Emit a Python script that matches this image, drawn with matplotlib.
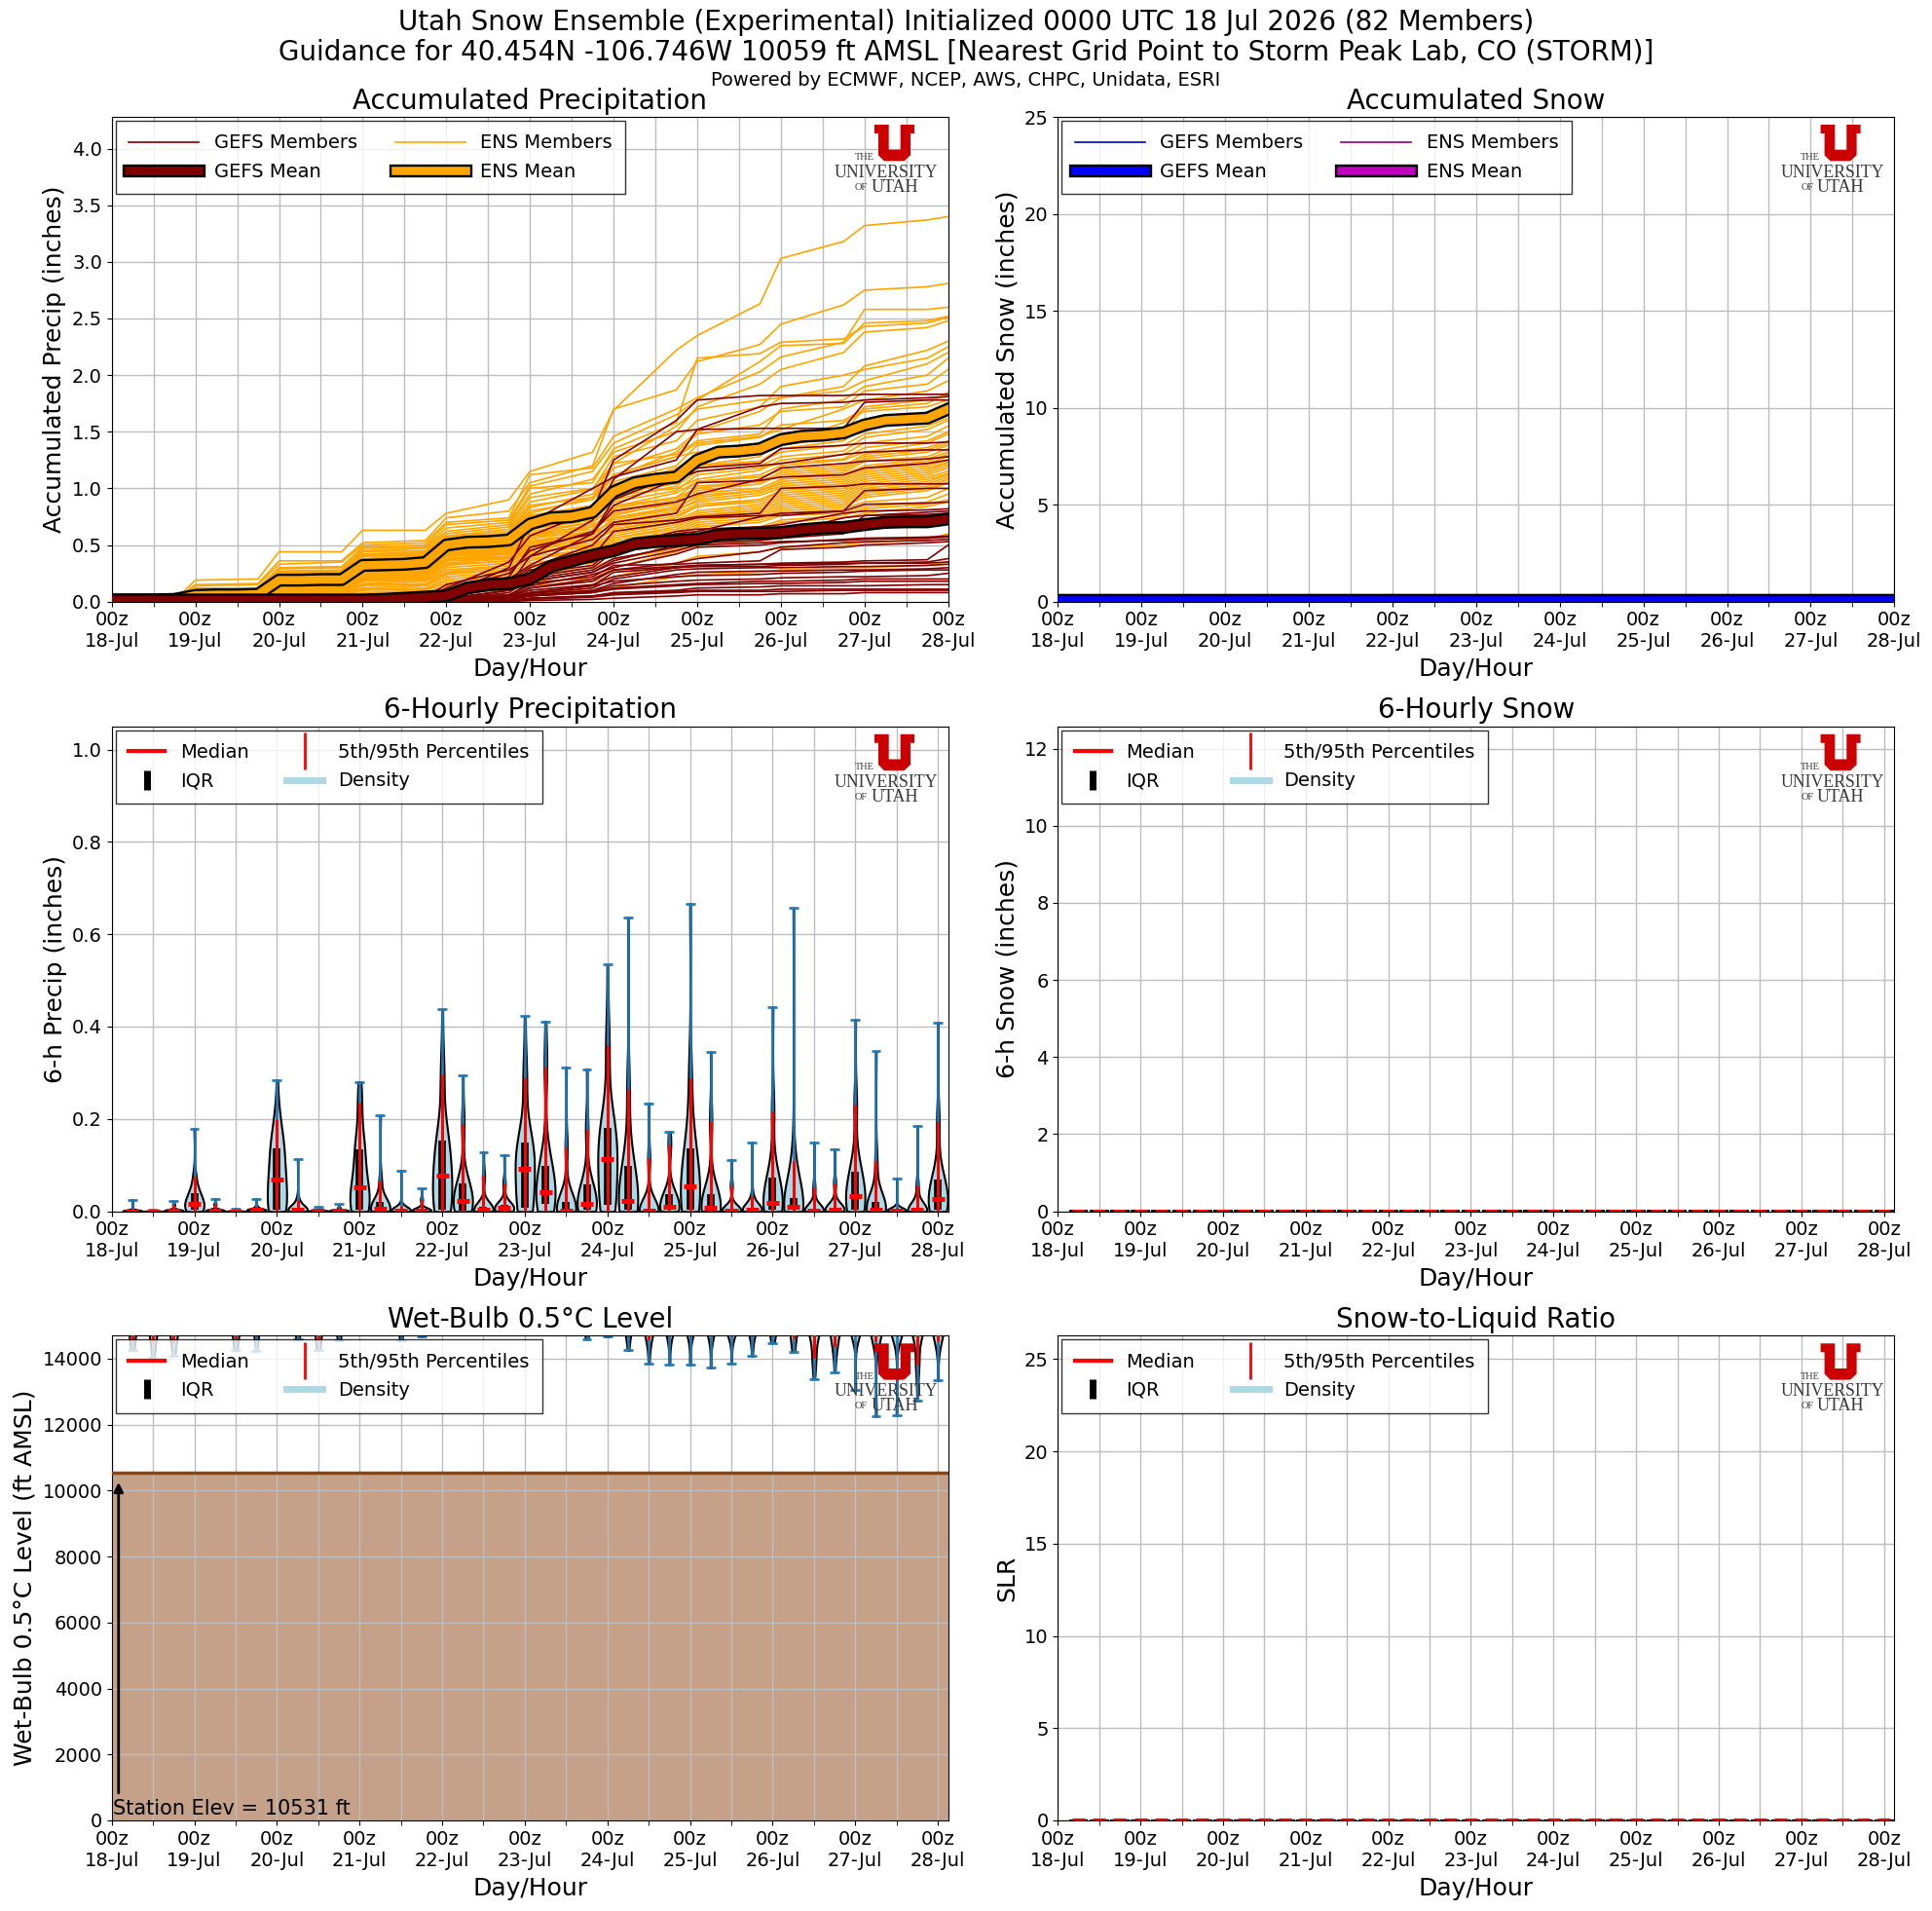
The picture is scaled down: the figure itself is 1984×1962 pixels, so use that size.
import numpy as np
import matplotlib
matplotlib.use('Agg')
import matplotlib.pyplot as plt
import matplotlib.patheffects as pe
from matplotlib.lines import Line2D
from matplotlib.patches import Polygon

# forecast hours
step_hours = list(range(6, 241, 6))
mean_hours = list(range(0, 241, 6))
member_hours = [0, 18, 24, 42, 48, 66, 72, 90, 96, 114, 120, 138, 144, 162, 168, 186, 192, 210, 216, 234, 240]
tick_days = ['18-Jul', '19-Jul', '20-Jul', '21-Jul', '22-Jul', '23-Jul', '24-Jul', '25-Jul', '26-Jul', '27-Jul', '28-Jul']

# ensemble mean accumulated precip (inches)
ens_mean = [0.015, 0.015, 0.015, 0.02, 0.055, 0.06, 0.06, 0.065, 0.19, 0.19, 0.195, 0.195, 0.32, 0.325, 0.33, 0.345,
            0.50, 0.525, 0.53, 0.545, 0.685, 0.74, 0.75, 0.79, 0.97, 1.05, 1.08, 1.10, 1.25, 1.32, 1.33, 1.35,
            1.43, 1.46, 1.47, 1.49, 1.56, 1.60, 1.61, 1.62, 1.70]
gefs_mean = [0.015, 0.015, 0.015, 0.015, 0.015, 0.015, 0.015, 0.015, 0.015, 0.015, 0.015, 0.015, 0.015, 0.02, 0.03, 0.04,
             0.05, 0.12, 0.15, 0.16, 0.20, 0.31, 0.36, 0.41, 0.45, 0.51, 0.53, 0.54, 0.55, 0.59, 0.60, 0.605,
             0.61, 0.635, 0.65, 0.655, 0.68, 0.70, 0.705, 0.705, 0.73]

# member accumulated precip, hundredths of an inch at member_hours
ens_members = [
    [0, 1, 19, 20, 44, 44, 63, 63, 78, 90, 115, 132, 169, 222, 235, 263, 303, 318, 332, 337, 340],
    [0, 1, 15, 16, 36, 36, 52, 54, 74, 80, 105, 120, 170, 187, 212, 227, 245, 262, 275, 278, 281],
    [0, 2, 14, 15, 33, 35, 50, 52, 70, 74, 112, 118, 146, 170, 180, 203, 216, 229, 258, 258, 260],
    [0, 1, 12, 12, 30, 31, 48, 50, 68, 72, 102, 115, 140, 165, 178, 212, 226, 228, 246, 248, 252],
    [0, 1, 11, 12, 29, 30, 47, 48, 65, 70, 100, 105, 135, 158, 215, 219, 229, 232, 243, 246, 251],
    [0, 1, 10, 11, 27, 28, 45, 47, 62, 68, 95, 108, 132, 150, 172, 192, 205, 220, 238, 242, 248],
    [0, 1, 10, 10, 26, 27, 44, 45, 60, 66, 92, 100, 122, 155, 170, 178, 180, 190, 208, 222, 230],
    [0, 0, 9, 9, 25, 26, 42, 44, 58, 64, 88, 99, 128, 142, 160, 172, 190, 200, 205, 215, 225],
    [0, 1, 8, 9, 24, 25, 41, 43, 57, 62, 85, 92, 118, 135, 150, 168, 180, 186, 195, 210, 220],
    [0, 0, 8, 8, 23, 24, 40, 42, 56, 60, 83, 95, 122, 130, 142, 148, 170, 178, 190, 200, 215],
    [0, 0, 8, 8, 22, 23, 40, 41, 55, 60, 80, 90, 110, 132, 148, 156, 168, 172, 186, 192, 205],
    [0, 0, 7, 8, 22, 22, 38, 40, 53, 58, 78, 92, 112, 128, 140, 146, 152, 170, 178, 186, 195],
    [0, 0, 7, 7, 21, 22, 37, 38, 52, 57, 76, 85, 106, 120, 138, 145, 156, 160, 170, 175, 185],
    [0, 1, 7, 7, 20, 21, 36, 38, 50, 56, 76, 84, 112, 128, 132, 138, 140, 148, 172, 178, 182],
    [0, 0, 6, 7, 20, 21, 35, 37, 50, 55, 74, 82, 100, 118, 126, 132, 140, 158, 168, 172, 178],
    [0, 0, 6, 6, 19, 20, 34, 36, 48, 54, 72, 84, 104, 113, 120, 128, 148, 150, 160, 165, 172],
    [0, 0, 6, 6, 19, 20, 34, 35, 48, 52, 72, 80, 98, 116, 130, 134, 138, 146, 158, 164, 170],
    [0, 0, 6, 6, 18, 19, 33, 35, 47, 52, 70, 78, 96, 104, 118, 124, 135, 142, 155, 160, 168],
    [0, 0, 5, 6, 18, 19, 32, 34, 47, 50, 68, 76, 92, 108, 120, 124, 132, 138, 148, 155, 162],
    [0, 0, 5, 5, 18, 18, 32, 33, 46, 50, 66, 72, 90, 102, 115, 120, 128, 133, 145, 152, 160],
    [0, 0, 5, 5, 17, 18, 31, 33, 46, 49, 66, 74, 94, 100, 108, 116, 125, 130, 140, 146, 155],
    [0, 0, 5, 5, 17, 17, 30, 32, 45, 48, 64, 72, 88, 98, 112, 118, 122, 126, 136, 142, 150],
    [0, 0, 4, 5, 16, 17, 30, 31, 44, 48, 62, 70, 84, 96, 106, 112, 120, 125, 132, 140, 148],
    [0, 0, 4, 4, 16, 16, 29, 30, 44, 47, 60, 66, 82, 92, 106, 110, 116, 120, 130, 136, 142],
    [0, 0, 4, 4, 15, 16, 28, 30, 43, 46, 60, 70, 84, 92, 100, 106, 114, 118, 128, 134, 140],
    [0, 0, 4, 4, 15, 15, 28, 29, 42, 46, 58, 64, 80, 90, 98, 104, 112, 116, 126, 132, 138],
    [0, 0, 3, 4, 14, 15, 27, 28, 42, 45, 58, 68, 76, 88, 102, 106, 110, 114, 124, 128, 135],
    [0, 0, 3, 3, 14, 14, 26, 28, 41, 44, 56, 62, 78, 86, 96, 100, 108, 112, 120, 126, 132],
    [0, 0, 3, 3, 13, 14, 26, 27, 40, 43, 56, 66, 74, 84, 92, 98, 106, 110, 118, 124, 130],
    [0, 0, 3, 3, 13, 13, 25, 26, 40, 42, 54, 60, 72, 82, 94, 98, 104, 108, 116, 122, 128],
    [0, 0, 3, 3, 12, 13, 24, 26, 38, 42, 52, 62, 70, 80, 90, 96, 102, 106, 114, 120, 125],
    [0, 0, 2, 3, 12, 12, 24, 25, 38, 40, 52, 58, 74, 82, 88, 94, 100, 104, 112, 118, 123],
    [0, 0, 2, 2, 11, 12, 23, 24, 37, 40, 50, 56, 68, 78, 86, 90, 98, 102, 110, 116, 122],
    [0, 0, 2, 2, 11, 11, 22, 24, 36, 39, 50, 60, 66, 76, 84, 90, 96, 100, 108, 114, 120],
    [0, 0, 2, 2, 10, 11, 22, 23, 36, 38, 48, 54, 64, 74, 84, 88, 94, 98, 106, 112, 118],
    [0, 0, 2, 2, 10, 10, 21, 22, 34, 38, 46, 52, 64, 72, 80, 86, 92, 96, 104, 110, 115],
    [0, 0, 1, 2, 9, 10, 20, 22, 33, 36, 46, 56, 62, 70, 78, 84, 90, 94, 102, 108, 113],
    [0, 0, 1, 1, 9, 9, 20, 21, 32, 36, 44, 50, 60, 70, 76, 82, 88, 92, 100, 106, 112],
    [0, 0, 1, 1, 8, 9, 19, 20, 30, 34, 44, 48, 58, 68, 76, 80, 86, 90, 98, 104, 110],
    [0, 0, 1, 1, 8, 8, 18, 19, 28, 32, 42, 50, 56, 66, 74, 78, 84, 88, 96, 102, 108],
    [0, 0, 1, 1, 7, 8, 16, 18, 26, 32, 40, 46, 56, 64, 72, 76, 82, 86, 94, 100, 106],
    [0, 0, 1, 1, 7, 7, 15, 16, 25, 30, 38, 44, 54, 62, 70, 74, 80, 84, 92, 98, 105],
    [0, 0, 0, 1, 6, 6, 14, 15, 24, 28, 36, 48, 52, 60, 68, 72, 78, 82, 88, 92, 100],
    [0, 0, 0, 1, 5, 6, 12, 14, 22, 26, 34, 40, 50, 58, 66, 70, 76, 78, 84, 88, 95],
    [0, 0, 0, 0, 5, 5, 11, 12, 20, 24, 32, 38, 48, 56, 62, 66, 72, 76, 82, 86, 90],
    [0, 0, 0, 0, 4, 5, 10, 11, 18, 22, 30, 42, 46, 54, 60, 64, 70, 74, 78, 84, 88],
    [0, 0, 0, 0, 4, 4, 8, 10, 16, 20, 28, 34, 44, 50, 56, 60, 66, 68, 72, 76, 78],
    [0, 0, 0, 0, 3, 3, 7, 8, 14, 18, 24, 30, 38, 46, 52, 58, 62, 66, 70, 73, 75],
    [0, 0, 0, 0, 2, 2, 6, 6, 12, 14, 18, 20, 30, 44, 50, 54, 58, 62, 64, 68, 70],
    [0, 0, 0, 0, 1, 2, 4, 5, 8, 10, 14, 18, 22, 34, 40, 44, 48, 50, 52, 55, 60],
    [0, 0, 0, 0, 0, 1, 2, 2, 4, 5, 8, 10, 12, 22, 24, 26, 28, 30, 30, 32, 35],
]
gefs_members = [
    [0, 0, 0, 0, 0, 0, 0, 3, 12, 35, 58, 80, 125, 160, 178, 182, 182, 182, 183, 183, 183],
    [0, 0, 0, 0, 0, 0, 0, 1, 6, 30, 70, 100, 110, 125, 152, 172, 175, 176, 178, 180, 181],
    [0, 0, 0, 0, 0, 0, 2, 4, 15, 28, 40, 72, 108, 150, 152, 153, 153, 153, 176, 178, 178],
    [0, 0, 0, 0, 0, 0, 0, 1, 5, 22, 48, 60, 90, 112, 118, 122, 135, 138, 140, 140, 141],
    [0, 0, 0, 0, 0, 0, 1, 3, 8, 20, 32, 60, 85, 108, 115, 120, 122, 130, 132, 134, 134],
    [0, 0, 0, 0, 0, 0, 1, 2, 10, 25, 45, 62, 80, 88, 95, 108, 118, 122, 124, 126, 128],
    [0, 0, 0, 0, 0, 0, 0, 0, 4, 14, 40, 55, 70, 78, 105, 107, 110, 112, 118, 122, 125],
    [0, 0, 0, 0, 0, 0, 0, 0, 3, 18, 30, 50, 68, 72, 75, 78, 100, 102, 104, 104, 104],
    [0, 0, 0, 0, 0, 0, 0, 1, 5, 12, 25, 40, 62, 70, 74, 76, 76, 80, 98, 100, 100],
    [0, 0, 0, 0, 0, 0, 0, 1, 4, 15, 28, 35, 50, 60, 62, 75, 78, 80, 86, 87, 88],
    [0, 0, 0, 0, 0, 0, 0, 2, 6, 14, 25, 32, 48, 62, 64, 66, 68, 78, 80, 81, 82],
    [0, 0, 0, 0, 0, 0, 0, 0, 3, 10, 22, 30, 44, 58, 60, 62, 62, 62, 76, 79, 80],
    [0, 0, 0, 0, 0, 0, 1, 2, 8, 12, 18, 26, 36, 50, 56, 58, 60, 74, 76, 77, 78],
    [0, 0, 0, 0, 0, 0, 0, 0, 2, 8, 20, 28, 38, 48, 52, 54, 56, 60, 70, 74, 77],
    [0, 0, 0, 0, 0, 0, 0, 1, 3, 6, 14, 24, 30, 42, 48, 50, 52, 55, 56, 57, 58],
    [0, 0, 0, 0, 0, 0, 0, 0, 2, 10, 18, 26, 34, 45, 50, 52, 53, 54, 55, 56, 57],
    [0, 0, 0, 0, 0, 0, 0, 0, 2, 5, 12, 20, 28, 34, 38, 44, 48, 52, 53, 54, 55],
    [0, 0, 0, 0, 0, 0, 0, 1, 3, 6, 16, 22, 32, 33, 34, 36, 46, 48, 50, 52, 53],
    [0, 0, 0, 0, 0, 0, 0, 0, 1, 4, 10, 15, 22, 30, 32, 33, 34, 35, 36, 37, 50],
    [0, 0, 0, 0, 0, 0, 0, 0, 1, 4, 12, 18, 28, 31, 32, 33, 33, 34, 34, 35, 38],
    [0, 0, 0, 0, 0, 0, 0, 0, 2, 3, 8, 14, 26, 30, 31, 31, 32, 33, 34, 34, 35],
    [0, 0, 0, 0, 0, 0, 0, 0, 1, 3, 7, 12, 20, 28, 29, 30, 30, 31, 31, 32, 33],
    [0, 0, 0, 0, 0, 0, 0, 0, 1, 2, 6, 10, 16, 24, 26, 27, 27, 28, 28, 29, 30],
    [0, 0, 0, 0, 0, 0, 0, 0, 1, 3, 8, 14, 18, 22, 23, 24, 25, 26, 27, 28, 28],
    [0, 0, 0, 0, 0, 0, 0, 0, 0, 2, 5, 9, 14, 18, 19, 20, 21, 22, 22, 23, 25],
    [0, 0, 0, 0, 0, 0, 0, 0, 0, 2, 5, 8, 12, 15, 16, 18, 18, 19, 20, 20, 20],
    [0, 0, 0, 0, 0, 0, 0, 0, 1, 3, 5, 8, 11, 14, 15, 16, 16, 17, 18, 18, 18],
    [0, 0, 0, 0, 0, 0, 0, 0, 0, 1, 3, 5, 8, 10, 12, 13, 14, 14, 14, 15, 15],
    [0, 0, 0, 0, 0, 0, 0, 0, 0, 1, 3, 5, 7, 9, 10, 10, 11, 11, 11, 11, 11],
    [0, 0, 0, 0, 0, 0, 0, 0, 0, 1, 2, 4, 6, 8, 9, 9, 9, 10, 10, 10, 10],
    [0, 0, 0, 0, 0, 0, 0, 0, 0, 0, 1, 2, 3, 5, 6, 6, 7, 7, 8, 8, 8],
]

# 6-h precip percentiles per step, p5 is zero everywhere
precip_max = [.025, .003, .022, .179, .027, .006, .027, .284, .113, .009, .015, .28, .208, .088, .049, .437, .294, .128, .122, .422,
              .411, .312, .308, .534, .636, .234, .172, .666, .345, .111, .149, .442, .657, .149, .134, .415, .346, .071, .185, .409]
precip_p95 = [.003, .001, .014, .074, .015, .002, .01, .2, .025, .003, .008, .236, .067, .011, .025, .296, .189, .076, .06, .291,
              .312, .139, .177, .359, .264, .114, .144, .289, .196, .056, .032, .217, .109, .051, .061, .23, .108, .007, .055, .192]
precip_p75 = [.001, 0, .001, .039, .002, 0, .003, .137, .007, .001, .002, .134, .021, .003, .003, .153, .06, .01, .014, .148,
              .098, .02, .058, .18, .098, .003, .037, .136, .037, .003, .008, .072, .028, .003, .008, .086, .021, .002, .003, .068]
precip_med = [0, 0, .002, .016, .001, 0, .004, .068, .003, .001, .002, .051, .005, .002, .002, .077, .023, .003, .008, .092,
              .041, .002, .016, .113, .023, .001, .009, .054, .007, .001, .004, .018, .009, .001, .003, .033, .004, .001, .003, .027]
precip_p25 = [0, 0, 0, .003, 0, 0, 0, .003, 0, 0, 0, .003, 0, 0, 0, .004, .002, 0, 0, .007,
              .015, 0, .003, .014, .003, 0, .003, .003, 0, 0, 0, .003, .003, 0, 0, .003, 0, 0, 0, .003]

# wet-bulb 0.5C level per step (ft AMSL)
wb_min = [14270, 14030, 14080, 14800, 14850, 14250, 14240, 14900, 14585, 14270, 14546, 14900, 15000, 14546, 14660, 15000, 15000, 15000, 15000, 15000,
          15000, 15000, 14595, 14660, 14245, 13850, 13820, 13805, 13715, 13850, 14070, 14480, 14205, 13385, 13590, 13050, 12250, 12280, 12720, 13330]
wb_p5 = [14560, 14500, 14500, 15000, 15100, 14600, 14800, 15200, 14900, 14550, 14900, 15300, 15400, 15000, 15100, 15400, 15400, 15300, 15300, 15400,
         15300, 15300, 15000, 15000, 14800, 14590, 14750, 14800, 14750, 14800, 14800, 14800, 14600, 14030, 14370, 14750, 14510, 14750, 13830, 14510]
wb_p25 = [15200, 15100, 15100, 15500, 15600, 15200, 15400, 15800, 15500, 15200, 15500, 15800, 15900, 15600, 15700, 15900, 15900, 15800, 15800, 15900,
          15800, 15800, 15600, 15500, 15300, 15100, 15200, 15200, 15200, 15100, 15200, 15300, 15200, 14900, 15000, 15100, 15000, 15000, 14900, 15000]
wb_med = [15600, 15500, 15500, 15900, 16000, 15600, 15800, 16200, 15900, 15600, 15900, 16200, 16300, 16000, 16100, 16300, 16300, 16200, 16200, 16300,
          16200, 16200, 16000, 15900, 15700, 15500, 15600, 15600, 15600, 15500, 15600, 15700, 15600, 15400, 15500, 15600, 15500, 15500, 15400, 15500]
wb_p75 = [16000, 15900, 15900, 16300, 16400, 16000, 16200, 16600, 16300, 16000, 16300, 16600, 16700, 16400, 16500, 16700, 16700, 16600, 16600, 16700,
          16600, 16600, 16400, 16300, 16100, 15900, 16000, 16000, 16000, 15900, 16000, 16100, 16000, 15800, 15900, 16000, 15900, 15900, 15800, 15900]
wb_p95 = [16500, 16400, 16400, 16800, 16900, 16500, 16700, 17100, 16800, 16500, 16800, 17100, 17200, 16900, 17000, 17200, 17200, 17100, 17100, 17200,
          17100, 17100, 16900, 16800, 16600, 16400, 16500, 16500, 16500, 16400, 16500, 16600, 16500, 16300, 16400, 16500, 16400, 16400, 16300, 16400]
wb_max = [16900, 16900, 16800, 17200, 17300, 16900, 17100, 17500, 17200, 16900, 17200, 17500, 17600, 17300, 17400, 17600, 17600, 17500, 17500, 17600,
          17500, 17500, 17300, 17200, 17000, 16800, 16900, 16900, 16900, 16800, 16900, 17000, 16900, 16700, 16800, 16900, 16800, 16800, 16700, 16800]

snow_mean = [0.08] * 41
no_precip = [0.0] * 40
station_elev = 10531

# how many members each percentile value stands for when building a violin body
slot_counts = [2, 8, 18, 24, 20, 8, 2]

W, H = 1984.0, 1962.0
ax_w, ax_h = 859.0, 497.7
col_left = [114.7, 1086.3]
row_bottom = [617.7, 1243.5, 1869.0]

plt.rcParams['font.size'] = 14

fig = plt.figure(figsize=(19.84, 19.62), dpi=100)


def make_axes(col, row):
    return fig.add_axes([col_left[col] / W, 1 - row_bottom[row] / H, ax_w / W, ax_h / H])


def format_axes(ax, title, ylabel, xmax):
    ax.set_xlim(0, xmax)
    ax.set_xticks(range(0, 241, 24))
    ax.set_xticks(range(12, 241, 24), minor=True)
    ax.set_xticklabels(['00z\n' + d for d in tick_days])
    ax.tick_params(axis='both', which='major', labelsize=14)
    ax.tick_params(axis='x', which='minor', length=3.5)
    ax.grid(True, which='both', color='#bdbdbd', linewidth=1.0)
    ax.set_axisbelow(True)
    ax.set_title(title, fontsize=20)
    ax.set_ylabel(ylabel, fontsize=18)
    ax.set_xlabel('Day/Hour', fontsize=18, labelpad=5)


def draw_logo(ax):
    # block U and wordmark, sized in pixels from the top right corner of the axes
    box_w, box_h = 112.0, 80.0
    logo = ax.inset_axes([1 - (box_w + 3.2) / ax_w, 1 - (box_h + 4) / ax_h, box_w / ax_w, box_h / ax_h])
    logo.set_xlim(0, box_w)
    logo.set_ylim(box_h, 0)
    logo.axis('off')
    logo.set_zorder(6)
    block_u = [(39.5, 4), (54.2, 4), (54.2, 29.7), (66.2, 29.7), (66.2, 4), (80.5, 4), (80.5, 13), (76.5, 13),
               (76.5, 35.3), (70, 41.3), (49.5, 41.3), (43.5, 35.3), (43.5, 13), (39.5, 13)]
    logo.add_patch(Polygon(block_u, closed=True, facecolor='#cc0000', edgecolor='none'))
    serif = dict(family='Liberation Serif', color='#3a3a3a', va='center', ha='center')
    logo.text(29, 38, 'THE', fontsize=7.5, **serif)
    logo.text(51.5, 53.5, 'UNIVERSITY', fontsize=12.8, **serif)
    logo.text(26, 68.5, 'OF', fontsize=7.5, **serif)
    logo.text(60, 68.5, 'UTAH', fontsize=13, **serif)


def member_panel(ax, members_a, members_b, mean_a, mean_b, color_a, color_b, member_color_a, member_color_b):
    # ENS members sit under GEFS members, means on top
    for m in members_b:
        ax.plot(member_hours, np.array(m) / 100.0, color=member_color_b, lw=1.2, zorder=2)
    for m in members_a:
        ax.plot(member_hours, np.array(m) / 100.0, color=member_color_a, lw=1.2, zorder=2.1)
    stroke = [pe.withStroke(linewidth=9.6, foreground='k')]
    ax.plot(mean_hours, mean_b, color=color_b, lw=6.2, path_effects=stroke, zorder=3)
    ax.plot(mean_hours, mean_a, color=color_a, lw=6.2, path_effects=stroke, zorder=3.1)
    handles = [Line2D([], [], color=member_color_a, lw=1.2),
               Line2D([], [], color=color_a, lw=6.2, path_effects=stroke),
               Line2D([], [], color=member_color_b, lw=1.2),
               Line2D([], [], color=color_b, lw=6.2, path_effects=stroke)]
    ax.legend(handles, ['GEFS Members', 'GEFS Mean', 'ENS Members', 'ENS Mean'], ncol=2, loc='upper left',
              fontsize=14, handlelength=3.7, columnspacing=2.0, labelspacing=0.52, borderpad=0.7, borderaxespad=0.2,
              fancybox=False, edgecolor='k').set_zorder(5)


def violin_panel(ax, stats):
    # stats are min, p5, p25, median, p75, p95, max per forecast step
    samples = [np.repeat(row, slot_counts) for row in zip(*stats)]
    parts = ax.violinplot(samples, positions=step_hours, widths=5.6, bw_method=0.55)
    for body in parts['bodies']:
        body.set_facecolor('lightblue')
        body.set_edgecolor('k')
        body.set_linewidth(1.5)
        body.set_alpha(1.0)
    for key in ['cbars', 'cmins', 'cmaxes']:
        parts[key].set_linewidth(1.9)
    ax.vlines(step_hours, stats[2], stats[4], color='k', lw=5.5, zorder=3)
    ax.vlines(step_hours, stats[1], stats[5], color='r', lw=2.2, zorder=3.1)
    hw = 1.85
    ax.hlines(stats[3], np.array(step_hours) - hw, np.array(step_hours) + hw, color='r', lw=3.6, zorder=3.2)
    handles = [Line2D([], [], color='r', lw=3),
               Line2D([], [], color='k', marker='|', ms=14, mew=5, ls='none'),
               Line2D([], [], color='r', marker='|', ms=28, mew=2, ls='none'),
               Line2D([], [], color='lightblue', lw=5)]
    ax.legend(handles, ['Median', 'IQR', '5th/95th Percentiles', 'Density'], ncol=2, loc='upper left',
              fontsize=14, handlelength=1.9, columnspacing=2.0, labelspacing=0.52, borderpad=0.7, borderaxespad=0.2,
              fancybox=False, edgecolor='k').set_zorder(5)


# accumulated precip
ax = make_axes(0, 0)
member_panel(ax, gefs_members, ens_members, gefs_mean, ens_mean, 'maroon', 'orange', 'maroon', 'orange')
format_axes(ax, 'Accumulated Precipitation', 'Accumulated Precip (inches)', 240)
ax.set_ylim(0, 4.28)
ax.set_yticks(np.arange(0, 4.1, 0.5))
draw_logo(ax)

# accumulated snow
ax = make_axes(1, 0)
zero_members = [[0] * 21]
member_panel(ax, zero_members, zero_members, snow_mean, snow_mean, 'blue', '#bf00bf', 'mediumblue', 'darkmagenta')
format_axes(ax, 'Accumulated Snow', 'Accumulated Snow (inches)', 240)
ax.set_ylim(0, 25)
ax.set_yticks(range(0, 26, 5))
draw_logo(ax)

# 6-hourly precip
ax = make_axes(0, 1)
zeros = no_precip
violin_panel(ax, [zeros, zeros, precip_p25, precip_med, precip_p75, precip_p95, precip_max])
format_axes(ax, '6-Hourly Precipitation', '6-h Precip (inches)', 243)
ax.set_ylim(0, 1.05)
ax.set_yticks(np.arange(0, 1.01, 0.2))
draw_logo(ax)

# 6-hourly snow
ax = make_axes(1, 1)
violin_panel(ax, [zeros] * 7)
format_axes(ax, '6-Hourly Snow', '6-h Snow (inches)', 243)
ax.set_ylim(0, 12.58)
ax.set_yticks(range(0, 13, 2))
draw_logo(ax)

# wet-bulb level with the terrain below the station
ax = make_axes(0, 2)
violin_panel(ax, [wb_min, wb_p5, wb_p25, wb_med, wb_p75, wb_p95, wb_max])
format_axes(ax, 'Wet-Bulb 0.5°C Level', 'Wet-Bulb 0.5°C Level (ft AMSL)', 243)
ax.set_ylim(0, 14693)
ax.set_yticks(range(0, 14001, 2000))
ax.axhspan(0, station_elev, facecolor='saddlebrown', alpha=0.5, zorder=0.4)
ax.axhline(station_elev, color='saddlebrown', lw=2.5, zorder=2.6)
ax.annotate('', xy=(2, 10330), xytext=(2, 750), arrowprops=dict(arrowstyle='-|>', color='k', lw=2), zorder=4)
ax.text(0.3, 180, 'Station Elev = %d ft' % station_elev, fontsize=15, zorder=4)
draw_logo(ax)

# snow-to-liquid ratio
ax = make_axes(1, 2)
violin_panel(ax, [zeros] * 7)
format_axes(ax, 'Snow-to-Liquid Ratio', 'SLR', 243)
ax.set_ylim(0, 26.27)
ax.set_yticks(range(0, 26, 5))
draw_logo(ax)

fig.text(0.5, 1 - 9 / H, 'Utah Snow Ensemble (Experimental) Initialized 0000 UTC 18 Jul 2026 (82 Members)\n'
         'Guidance for 40.454N -106.746W 10059 ft AMSL [Nearest Grid Point to Storm Peak Lab, CO (STORM)]',
         ha='center', va='top', fontsize=20, linespacing=1.15)
fig.text(0.5, 1 - 83 / H, 'Powered by ECMWF, NCEP, AWS, CHPC, Unidata, ESRI', ha='center', va='center', fontsize=14)

fig.savefig('out.png', dpi=100)
